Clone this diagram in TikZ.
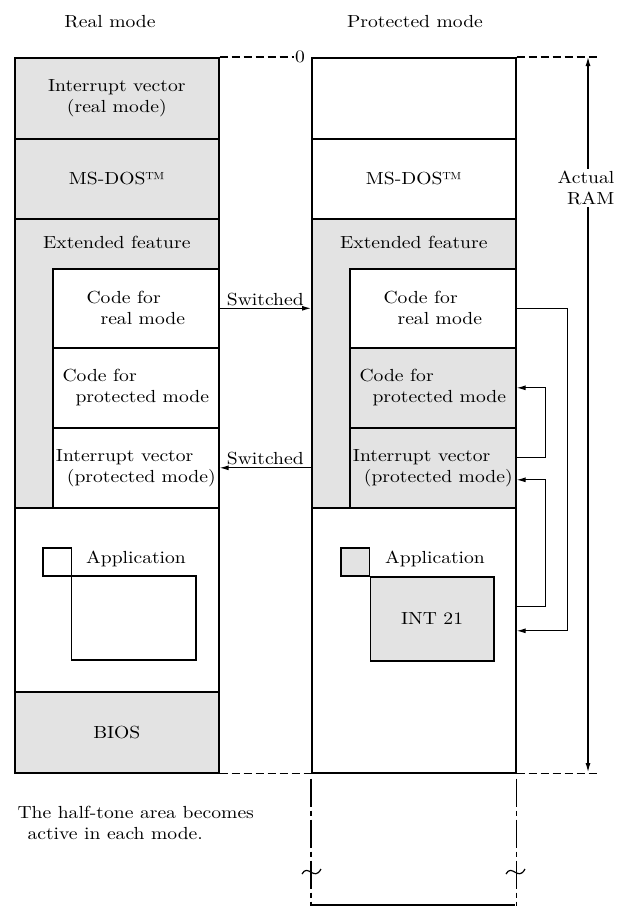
\documentclass[tikz,border=0pt]{standalone}
\usepackage{fontspec}
\setmainfont{lmroman10-regular.otf}[FakeStretch=1.12]
\usetikzlibrary{arrows.meta}
\definecolor{halftone}{gray}{0.89}
\tikzset{
  memblock/.style={draw,line width=1.6,inner sep=0,anchor=north west,align=center},
  conn/.style={line width=1.1,>={Latex[length=9pt,width=5pt]}},
  dashline/.style={line width=1.1,dash pattern=on 8pt off 4pt},
  chainline/.style={line width=1.1,dash pattern=on 28pt off 4pt on 5pt off 4pt}
}
\begin{document}
\begin{tikzpicture}[x=1pt,y=-1pt,font=\fontsize{17.5}{21}\selectfont]
\useasboundingbox (0,0) rectangle (629,906);

\node (realhd) at (110,22) {Real mode};
\node (prothd) at (415,22) {Protected mode};

% real mode map
\node[memblock,fill=halftone,minimum width=204,minimum height=81] (lrvec) at (14,57) {Interrupt vector\\(real mode)};
\node[memblock,fill=halftone,minimum width=204,minimum height=80] (ldos) at (14,138) {MS-DOS\texttrademark};
\node[memblock,fill=halftone,minimum width=204,minimum height=289,label={[anchor=center,yshift=-24pt]north:Extended feature}] (lext) at (14,218) {};
\node[memblock,fill=white,minimum width=166,minimum height=79,align=left] (lcode) at (52,268) {Code for\\\hspace*{14pt}real mode};
\node[memblock,fill=white,minimum width=166,minimum height=80,align=left] (lpcode) at (52,347) {Code for\\\hspace*{13pt}protected mode};
\node[memblock,fill=white,minimum width=166,minimum height=80,align=left] (lpvec) at (52,427) {Interrupt vector\\\hspace*{11pt}(protected mode)};
\node[memblock,fill=white,minimum width=204,minimum height=184] (lapp) at (14,507) {};
\node[memblock,fill=halftone,minimum width=204,minimum height=81] (lbios) at (14,691) {BIOS};

\draw[line width=1.5] (43,548) rectangle (71.5,576);
\draw[line width=1.5] (71.5,576) rectangle (196,660);
\node (lappl) at (136,559) {Application};

% protected mode map
\node[memblock,fill=white,minimum width=204,minimum height=81] (rtop) at (311,57) {};
\node[memblock,fill=white,minimum width=204,minimum height=80] (rdos) at (311,138) {MS-DOS\texttrademark};
\node[memblock,fill=halftone,minimum width=204,minimum height=289,label={[anchor=center,yshift=-24pt]north:Extended feature}] (rext) at (311,218) {};
\node[memblock,fill=white,minimum width=166,minimum height=79,align=left] (rcode) at (349,268) {Code for\\\hspace*{14pt}real mode};
\node[memblock,fill=halftone,minimum width=166,minimum height=80,align=left] (rpcode) at (349,347) {Code for\\\hspace*{13pt}protected mode};
\node[memblock,fill=halftone,minimum width=166,minimum height=80,align=left] (rpvec) at (349,427) {Interrupt vector\\\hspace*{11pt}(protected mode)};
\node[memblock,fill=white,minimum width=204,minimum height=265] (rapp) at (311,507) {};

\draw[line width=1.5,fill=halftone] (341,548) rectangle (369.5,576);
\node[memblock,fill=halftone,minimum width=123.5,minimum height=84] (int) at (369.5,576) {INT 21};
\node (rappl) at (435,559) {Application};

% switching
\draw[conn,->] (lcode.east) -- (lcode.east -| rext.west) node[midway,above,inner sep=2pt] (swa) {Switched};
\draw[conn,->] (lpvec.east -| rext.west) -- (lpvec.east) node[midway,above,inner sep=2pt] (swb) {Switched};

\draw[conn,->] (rcode.east) -- ++(51,0) |- ([yshift=9.5pt]rapp.east);
\draw[conn,->] ([yshift=10pt]rpvec.east) -- ++(29,0) |- (rpcode.east);
\draw[conn,->] ([yshift=33.5pt]rapp.east) -- ++(29,0) |- ([yshift=-12pt]rpvec.east);

% address range
\node[inner sep=1pt] (zero) at (300,57) {0};
\draw[dashline] (lrvec.north east) -- (zero.west);
\draw[dashline] (rtop.north east) -- ++(80,0);
\draw[dashline] (lbios.south east) -- (rapp.south west);
\draw[dashline] (rapp.south east) -- ++(80,0);
\coordinate (ramtop) at (588,57);
\coordinate (rambot) at (588,772);
\draw[conn,<->] (ramtop) -- (rambot);
\node[fill=white,align=right,inner sep=2pt] (ram) at (586,188) {Actual\\RAM};

\draw[chainline] ([yshift=-5pt]rapp.south west) -- ++(0,130);
\draw[chainline] ([yshift=-5pt]rapp.south east) -- ++(0,130);
\draw[line width=1.2] (302,874) .. controls (308,863) and (314,882) .. (321,869);
\draw[line width=1.2] (506,874) .. controls (512,863) and (518,882) .. (525,869);
\draw[line width=1.1] (311,905) -- (515,905);

\node[anchor=west,align=left] (note) at (14,823) {The half-tone area becomes\\\hspace*{10pt}active in each mode.};
\end{tikzpicture}
\end{document}
